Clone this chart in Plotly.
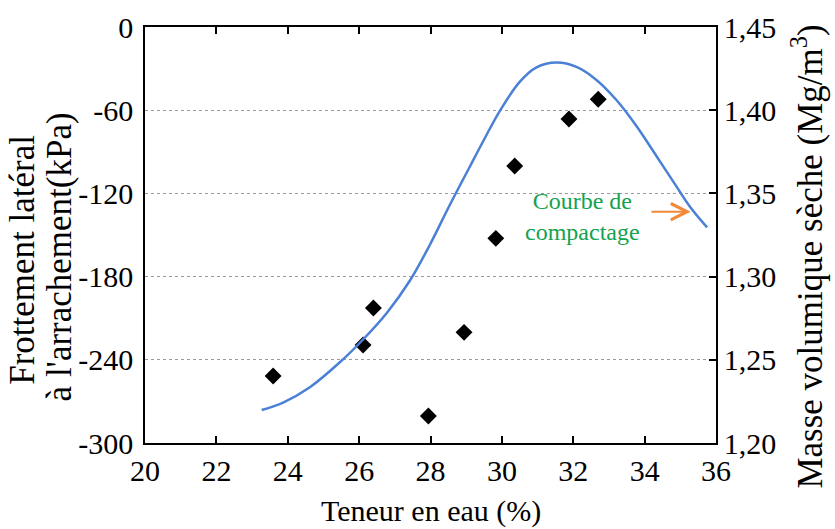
import plotly.graph_objects as go

# Friction data (left axis)
teneur_pts = [23.59, 26.11, 26.40, 27.94, 28.94, 29.83, 30.36, 31.88, 32.70]
frottement = [-251.7, -229.3, -202.6, -280.5, -220.2, -152.4, -100.2, -66.3, -52.1]

# Compaction curve (right axis)
teneur_curve = [23.27, 23.87, 24.62, 25.46, 26.11, 26.77, 27.42, 27.98, 28.54, 29.10,
                29.48, 29.94, 30.50, 30.97, 31.53, 32.09, 32.65, 33.21, 33.77, 34.33,
                34.89, 35.27, 35.75]
masse_vol = [1.2198, 1.2243, 1.2335, 1.2485, 1.2622, 1.2780, 1.2975, 1.3190, 1.3430, 1.3660,
             1.3815, 1.3995, 1.4170, 1.4257, 1.4286, 1.4260, 1.4182, 1.4061, 1.3905, 1.3725,
             1.3542, 1.3420, 1.3296]

x_ticks = [20, 22, 24, 26, 28, 30, 32, 34, 36]
y_ticks = [-300, -240, -180, -120, -60, 0]
y_ticktext = ["-300", "-240", "-180", "-120", "-60", "0"]
y2_ticks = [1.20, 1.25, 1.30, 1.35, 1.40, 1.45]
y2_ticktext = ["1,20", "1,25", "1,30", "1,35", "1,40", "1,45"]

FONT = "Times New Roman, Liberation Serif, DejaVu Serif, serif"

fig = go.Figure()
fig.add_trace(go.Scatter(x=teneur_curve, y=masse_vol, mode="lines", yaxis="y2",
                         line=dict(color="#4a80d6", width=2.5, shape="spline", smoothing=1.0),
                         showlegend=False, hoverinfo="skip"))
fig.add_trace(go.Scatter(x=teneur_pts, y=frottement, mode="markers",
                         marker=dict(symbol="diamond", size=13, color="black"),
                         showlegend=False))

fig.update_layout(
    width=835, height=529,
    margin=dict(l=145, r=119, t=27, b=86),
    paper_bgcolor="white", plot_bgcolor="white",
    font=dict(family=FONT, size=28, color="black"),
    xaxis=dict(range=[20, 36], tickvals=x_ticks, ticks="inside", ticklen=7,
               tickwidth=1.5, tickcolor="black", showline=True, linecolor="black",
               linewidth=1.5, mirror="ticks", showgrid=False, zeroline=False,
               tickfont=dict(family=FONT, size=30), automargin=False),
    yaxis=dict(range=[-300, 0], tickvals=y_ticks, ticktext=y_ticktext, ticks="",
               showline=True, linecolor="black", linewidth=1.5, mirror=False,
               showgrid=True, gridcolor="#9a9a9a", griddash="dot", gridwidth=1,
               zeroline=False, tickfont=dict(family=FONT, size=30), ticklabelstandoff=4,
               automargin=False),
    yaxis2=dict(range=[1.20, 1.45], tickvals=y2_ticks, ticktext=y2_ticktext,
                overlaying="y", side="right", ticks="inside", ticklen=7, tickwidth=1.5,
                tickcolor="black", showline=True, linecolor="black", linewidth=1.5,
                showgrid=False, zeroline=False, tickfont=dict(family=FONT, size=30),
                automargin=False),
    annotations=[
        dict(text="Teneur en eau (%)", xref="paper", yref="paper", x=0.5, y=-0.163,
             showarrow=False, xanchor="center", yanchor="middle",
             font=dict(family=FONT, size=30)),
        dict(text="Frottement latéral", xref="paper", yref="paper",
             x=-0.214, y=0.440, textangle=-90, showarrow=False, xanchor="center",
             yanchor="middle", font=dict(family=FONT, size=35)),
        dict(text="à l'arrachement(kPa)", xref="paper", yref="paper",
             x=-0.150, y=0.447, textangle=-90, showarrow=False, xanchor="center",
             yanchor="middle", font=dict(family=FONT, size=35)),
        dict(text="Masse volumique sèche (Mg/m<sup>3</sup>)", xref="paper", yref="paper",
             x=1.160, y=0.449, textangle=-90, showarrow=False, xanchor="center",
             yanchor="middle", font=dict(family=FONT, size=35)),
        dict(text="Courbe de<br>compactage", xref="x", yref="y", x=32.27, y=-136.3,
             showarrow=False, font=dict(family=FONT, size=24, color="#14a24e")),
        dict(text="", xref="x", yref="y", x=35.29, y=-133.2, axref="x", ayref="y",
             ax=34.15, ay=-133.2, showarrow=True, arrowhead=5, arrowsize=1.6,
             arrowwidth=2, arrowcolor="#f0893a"),
    ],
)

fig.write_html("out.html", config={"displayModeBar": False},
               post_script="document.body.style.margin='0px';")
